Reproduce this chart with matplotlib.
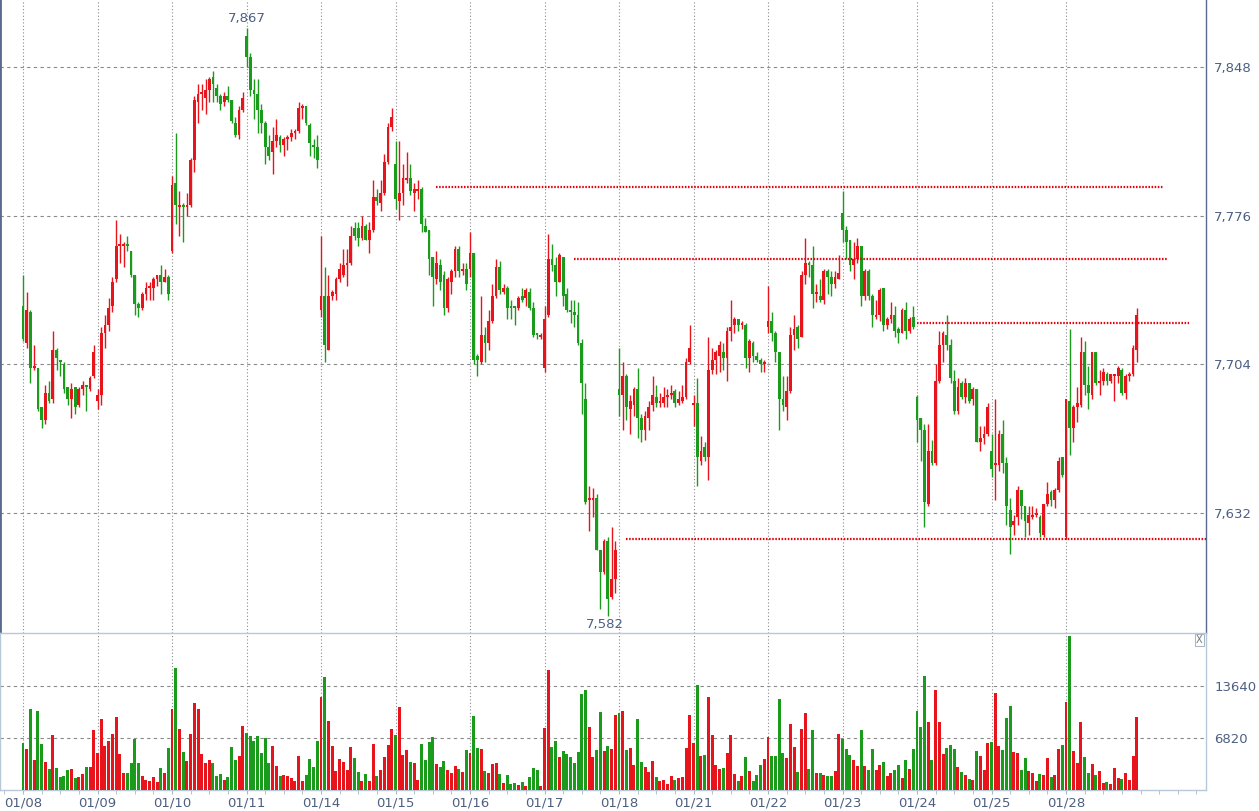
import numpy as np
import matplotlib
matplotlib.use('Agg')
import matplotlib.pyplot as plt
from matplotlib.ticker import FixedLocator, MultipleLocator, FuncFormatter

# trading days shown on the x axis, 20 bars per day
day_labels = ['01/08', '01/09', '01/10', '01/11', '01/14', '01/15', '01/16', '01/17',
              '01/18', '01/21', '01/22', '01/23', '01/24', '01/25', '01/28']
bars_per_day = 20

opens = [
    7732, 7714, 7729, 7702, 7702, 7683, 7677, 7690, 7687, 7711, 7706, 7704, 7693, 7687, 7693, 7684, 7692, 7694, 7692, 7698,
    7686, 7689, 7719, 7723, 7732, 7745, 7761, 7761, 7762, 7759, 7747, 7733, 7731, 7738, 7741, 7741, 7745, 7747, 7744, 7746,
    7759, 7792, 7780, 7781, 7780, 7781, 7803, 7831, 7835, 7833, 7837, 7843, 7838, 7834, 7831, 7834, 7832, 7821, 7815, 7827,
    7863, 7853, 7837, 7835, 7827, 7821, 7809, 7807, 7812, 7814, 7810, 7813, 7814, 7816, 7817, 7828, 7829, 7820, 7810, 7809,
    7730, 7737, 7711, 7737, 7738, 7745, 7747, 7752, 7753, 7770, 7770, 7765, 7771, 7764, 7769, 7785, 7782, 7787, 7802, 7819,
    7801, 7783, 7787, 7793, 7794, 7787, 7788, 7789, 7771, 7769, 7756, 7745, 7752, 7747, 7731, 7744, 7749, 7760, 7749, 7750,
    7750, 7758, 7708, 7705, 7718, 7714, 7725, 7737, 7751, 7739, 7741, 7732, 7732, 7731, 7737, 7736, 7739, 7731, 7719, 7717,
    7702, 7728, 7755, 7752, 7744, 7756, 7738, 7730, 7729, 7728, 7714, 7687, 7638, 7638, 7639, 7614, 7603, 7618, 7591, 7600,
    7692, 7689, 7698, 7682, 7684, 7692, 7678, 7672, 7678, 7684, 7688, 7685, 7685, 7688, 7689, 7691, 7685, 7686, 7688, 7705,
    7684, 7685, 7657, 7664, 7659, 7701, 7706, 7708, 7710, 7707, 7720, 7723, 7726, 7723, 7723, 7707, 7714, 7708, 7706, 7704,
    7722, 7725, 7719, 7710, 7687, 7683, 7691, 7718, 7722, 7717, 7747, 7753, 7752, 7738, 7737, 7735, 7749, 7746, 7743, 7745,
    7777, 7769, 7764, 7752, 7755, 7761, 7737, 7749, 7737, 7727, 7728, 7741, 7723, 7726, 7728, 7721, 7719, 7730, 7720, 7727,
    7688, 7678, 7672, 7636, 7662, 7656, 7696, 7713, 7718, 7713, 7696, 7681, 7695, 7688, 7695, 7687, 7692, 7666, 7668, 7670,
    7662, 7655, 7655, 7670, 7656, 7633, 7626, 7630, 7643, 7635, 7627, 7630, 7631, 7630, 7621, 7636, 7642, 7638, 7643, 7659,
    7620, 7686, 7673, 7683, 7684, 7710, 7694, 7689, 7710, 7695, 7696, 7699, 7696, 7698, 7698, 7701, 7690, 7698, 7699, 7711,
]
highs = [
    7747, 7739, 7730, 7713, 7702, 7683, 7694, 7696, 7720, 7712, 7706, 7705, 7693, 7695, 7693, 7693, 7696, 7694, 7698, 7713,
    7692, 7722, 7728, 7736, 7746, 7774, 7767, 7763, 7766, 7759, 7747, 7734, 7739, 7744, 7744, 7746, 7747, 7752, 7750, 7747,
    7795, 7816, 7788, 7782, 7787, 7804, 7834, 7840, 7840, 7842, 7843, 7846, 7840, 7835, 7836, 7839, 7832, 7824, 7829, 7836,
    7867, 7855, 7842, 7842, 7830, 7822, 7815, 7819, 7823, 7815, 7814, 7815, 7818, 7818, 7831, 7830, 7829, 7821, 7813, 7815,
    7766, 7751, 7747, 7740, 7746, 7753, 7760, 7760, 7771, 7773, 7773, 7776, 7772, 7773, 7793, 7789, 7793, 7806, 7821, 7828,
    7812, 7812, 7801, 7807, 7801, 7792, 7793, 7790, 7775, 7769, 7756, 7759, 7755, 7749, 7746, 7750, 7761, 7761, 7753, 7753,
    7768, 7758, 7709, 7737, 7722, 7730, 7743, 7755, 7754, 7743, 7742, 7735, 7732, 7737, 7741, 7741, 7741, 7734, 7719, 7719,
    7732, 7767, 7762, 7756, 7758, 7756, 7741, 7735, 7735, 7734, 7716, 7695, 7645, 7644, 7641, 7614, 7619, 7620, 7625, 7618,
    7712, 7705, 7699, 7689, 7693, 7702, 7680, 7681, 7686, 7698, 7694, 7690, 7693, 7692, 7694, 7692, 7691, 7694, 7707, 7723,
    7689, 7697, 7669, 7666, 7717, 7712, 7711, 7715, 7714, 7722, 7735, 7727, 7726, 7725, 7724, 7716, 7715, 7710, 7707, 7706,
    7742, 7729, 7720, 7710, 7698, 7698, 7722, 7728, 7723, 7749, 7765, 7754, 7761, 7743, 7745, 7750, 7750, 7749, 7749, 7757,
    7788, 7771, 7764, 7763, 7765, 7761, 7750, 7750, 7738, 7735, 7741, 7741, 7727, 7734, 7732, 7722, 7731, 7734, 7727, 7732,
    7689, 7678, 7675, 7675, 7667, 7704, 7720, 7720, 7728, 7716, 7701, 7697, 7696, 7697, 7695, 7693, 7692, 7674, 7674, 7685,
    7670, 7687, 7672, 7677, 7659, 7639, 7631, 7645, 7643, 7635, 7635, 7635, 7634, 7631, 7636, 7647, 7643, 7644, 7659, 7659,
    7687, 7721, 7684, 7693, 7717, 7715, 7703, 7710, 7710, 7701, 7702, 7700, 7699, 7699, 7703, 7702, 7699, 7700, 7713, 7731,
]
lows = [
    7715, 7712, 7695, 7701, 7681, 7673, 7675, 7685, 7685, 7701, 7698, 7690, 7684, 7678, 7680, 7683, 7689, 7681, 7691, 7697,
    7682, 7684, 7712, 7720, 7729, 7744, 7753, 7751, 7759, 7746, 7728, 7727, 7730, 7735, 7735, 7735, 7742, 7738, 7744, 7735,
    7758, 7772, 7766, 7763, 7776, 7780, 7797, 7821, 7827, 7825, 7831, 7831, 7831, 7827, 7829, 7831, 7821, 7814, 7813, 7826,
    7848, 7834, 7823, 7816, 7816, 7801, 7803, 7796, 7809, 7807, 7805, 7808, 7812, 7813, 7816, 7823, 7820, 7805, 7804, 7799,
    7727, 7705, 7711, 7735, 7735, 7744, 7746, 7742, 7752, 7764, 7761, 7764, 7764, 7758, 7768, 7781, 7778, 7786, 7801, 7817,
    7779, 7774, 7781, 7792, 7786, 7778, 7784, 7768, 7768, 7747, 7732, 7743, 7740, 7728, 7729, 7738, 7746, 7746, 7747, 7740,
    7746, 7704, 7698, 7704, 7705, 7711, 7724, 7736, 7738, 7738, 7726, 7726, 7723, 7730, 7734, 7732, 7730, 7717, 7716, 7716,
    7700, 7727, 7749, 7737, 7744, 7732, 7729, 7724, 7722, 7713, 7680, 7636, 7623, 7630, 7614, 7585, 7602, 7582, 7590, 7593,
    7679, 7672, 7677, 7670, 7679, 7668, 7666, 7667, 7672, 7681, 7683, 7683, 7683, 7683, 7687, 7683, 7684, 7685, 7687, 7704,
    7674, 7645, 7655, 7657, 7648, 7699, 7699, 7700, 7701, 7696, 7715, 7719, 7720, 7721, 7702, 7700, 7705, 7705, 7700, 7700,
    7719, 7715, 7705, 7672, 7681, 7677, 7690, 7711, 7712, 7717, 7743, 7746, 7731, 7734, 7734, 7733, 7738, 7737, 7741, 7745,
    7763, 7755, 7749, 7745, 7753, 7732, 7735, 7735, 7722, 7726, 7725, 7720, 7721, 7724, 7717, 7714, 7719, 7716, 7719, 7721,
    7666, 7657, 7625, 7635, 7655, 7655, 7695, 7705, 7711, 7695, 7680, 7680, 7687, 7685, 7685, 7684, 7666, 7662, 7665, 7669,
    7649, 7638, 7652, 7651, 7626, 7612, 7621, 7626, 7629, 7620, 7621, 7629, 7630, 7620, 7620, 7635, 7635, 7634, 7642, 7649,
    7619, 7660, 7666, 7676, 7683, 7689, 7682, 7687, 7694, 7689, 7694, 7694, 7695, 7686, 7695, 7689, 7687, 7696, 7698, 7705,
]
closes = [
    7716, 7730, 7702, 7703, 7682, 7677, 7690, 7686, 7711, 7707, 7705, 7692, 7687, 7692, 7683, 7692, 7694, 7693, 7697, 7710,
    7689, 7719, 7723, 7731, 7744, 7761, 7762, 7762, 7761, 7747, 7733, 7731, 7738, 7741, 7742, 7745, 7747, 7744, 7746, 7738,
    7791, 7781, 7781, 7780, 7781, 7803, 7832, 7835, 7836, 7837, 7842, 7840, 7834, 7830, 7834, 7832, 7822, 7815, 7827, 7833,
    7853, 7837, 7835, 7827, 7821, 7809, 7805, 7812, 7815, 7810, 7813, 7814, 7816, 7817, 7828, 7829, 7821, 7811, 7809, 7803,
    7737, 7713, 7737, 7739, 7745, 7750, 7752, 7753, 7766, 7766, 7765, 7771, 7764, 7769, 7785, 7783, 7787, 7802, 7819, 7824,
    7784, 7787, 7794, 7794, 7788, 7789, 7789, 7772, 7768, 7755, 7746, 7753, 7744, 7731, 7745, 7749, 7760, 7749, 7750, 7743,
    7758, 7706, 7706, 7718, 7714, 7725, 7737, 7751, 7740, 7741, 7731, 7731, 7731, 7736, 7735, 7740, 7731, 7718, 7718, 7718,
    7726, 7755, 7752, 7744, 7757, 7737, 7730, 7729, 7728, 7714, 7695, 7637, 7639, 7639, 7614, 7603, 7618, 7590, 7600, 7614,
    7689, 7698, 7683, 7686, 7692, 7678, 7672, 7679, 7683, 7689, 7685, 7686, 7688, 7689, 7690, 7685, 7687, 7688, 7705, 7712,
    7685, 7659, 7662, 7659, 7701, 7706, 7710, 7713, 7707, 7720, 7722, 7726, 7723, 7724, 7707, 7715, 7708, 7706, 7704, 7705,
    7725, 7719, 7710, 7687, 7684, 7691, 7718, 7721, 7716, 7747, 7753, 7752, 7738, 7739, 7735, 7749, 7746, 7743, 7746, 7748,
    7769, 7763, 7752, 7755, 7761, 7737, 7749, 7737, 7728, 7728, 7740, 7723, 7726, 7728, 7720, 7719, 7730, 7720, 7726, 7722,
    7677, 7672, 7637, 7662, 7656, 7696, 7713, 7719, 7713, 7697, 7681, 7693, 7688, 7695, 7686, 7692, 7666, 7668, 7670, 7683,
    7653, 7656, 7670, 7656, 7635, 7625, 7628, 7643, 7635, 7628, 7631, 7631, 7632, 7622, 7636, 7641, 7638, 7643, 7657, 7650,
    7687, 7673, 7683, 7685, 7710, 7694, 7690, 7710, 7695, 7696, 7700, 7696, 7699, 7699, 7702, 7690, 7698, 7699, 7712, 7728,
]
volumes = [
    6144, 5440, 10560, 3904, 10368, 6080, 3712, 2752, 7232, 2880, 1664, 1792, 2624, 2752, 1600, 1664, 2112, 3072, 3072, 7808,
    4864, 9344, 5824, 6400, 7360, 9600, 4672, 2240, 2240, 3520, 6720, 3520, 1792, 1280, 1152, 1664, 1024, 2880, 2240, 5568,
    10624, 15936, 8064, 4928, 3776, 7360, 11392, 10624, 4672, 3520, 3904, 3584, 1792, 2112, 1280, 1728, 5632, 3904, 4480, 8448,
    7424, 7040, 6400, 7104, 4864, 6784, 3520, 5824, 3200, 1792, 1920, 1792, 1600, 1152, 4416, 1152, 1920, 4032, 3072, 6464,
    12160, 14784, 9088, 5824, 2432, 4032, 3712, 2624, 5696, 4160, 2368, 1152, 2112, 1152, 6080, 1792, 2624, 4352, 5952, 8064,
    7232, 10880, 4544, 5184, 3712, 3520, 1344, 6080, 3904, 6272, 6912, 3392, 3008, 3840, 2560, 2176, 3200, 2816, 2304, 5184,
    4800, 9664, 5568, 5312, 2432, 2240, 3392, 3520, 2112, 960, 1984, 832, 960, 704, 1024, 512, 1664, 2880, 2624, 512,
    8192, 15744, 5632, 6464, 4288, 5056, 4672, 4352, 3520, 4928, 12544, 13056, 8320, 4288, 5184, 10240, 5056, 5760, 5440, 9856,
    10112, 10368, 5184, 5568, 3264, 9344, 3648, 3072, 2304, 3776, 1728, 1152, 1344, 768, 1792, 1280, 1536, 1664, 5568, 9856,
    6208, 13760, 4416, 4544, 12160, 7232, 3264, 2752, 2944, 4864, 7232, 2048, 1216, 1792, 4288, 2496, 1152, 1920, 3264, 4096,
    6912, 4480, 4416, 11904, 4800, 4160, 8640, 5696, 2368, 8064, 10112, 2752, 7808, 2240, 2176, 1920, 1792, 1792, 2496, 7360,
    6720, 5376, 4544, 3904, 3200, 7808, 3200, 2688, 5376, 2688, 3264, 3712, 1792, 2240, 2624, 3264, 1600, 3904, 2816, 5376,
    10368, 8320, 14912, 8896, 3904, 13056, 8896, 4736, 5568, 5888, 5440, 3008, 2368, 1920, 1408, 1280, 5056, 4416, 2624, 6208,
    6272, 12672, 5760, 5184, 9472, 11008, 4928, 4800, 2624, 4160, 2496, 2176, 1152, 2048, 1920, 4160, 1664, 1920, 5312, 5952,
    11520, 20224, 5056, 3584, 8896, 4288, 2240, 3392, 1920, 2496, 960, 1024, 768, 2880, 1600, 1408, 2176, 1280, 4416, 9600,
]

# horizontal support / resistance lines drawn on the chart: price, first bar, last bar
level_prices = [7790, 7755, 7724, 7619]
level_start = [111, 148, 240, 162]
level_end = [306, 307, 313, 318]

price_ticks = [7632, 7704, 7776, 7848]
volume_ticks = [6820, 13640]

# colours
up_color = '#e8141b'
down_color = '#1b9b1b'
label_color = '#4c5f82'
grid_color = '#8a8a8a'
font_size = 9.5

o = np.array(opens, dtype=float)
h = np.array(highs, dtype=float)
l = np.array(lows, dtype=float)
c = np.array(closes, dtype=float)
v = np.array(volumes, dtype=float)
x = np.arange(len(c))
colors = np.where(c >= o, up_color, down_color)

# doji candles still get a one pixel body
body_bottom = np.minimum(o, c)
body_height = np.abs(c - o)
thin = body_height < 0.6
body_bottom[thin] = (o[thin] + c[thin]) / 2 - 0.3
body_height[thin] = 0.6

W, H = 1259, 811
fig = plt.figure(figsize=(W / 100, H / 100), dpi=100)
fig.patch.set_facecolor('white')

right_px = 1206
ax = fig.add_axes([0, (H - 633) / H, right_px / W, 633 / H])
axv = fig.add_axes([0, (H - 790) / H, right_px / W, (790 - 633) / H], sharex=ax)

xlim = (-23 / 3.725, (right_px - 23) / 3.725)
day_starts = np.arange(len(day_labels)) * bars_per_day

# ---- price panel
ax.vlines(x, l, h, colors=colors, linewidth=1.0, zorder=3)
ax.bar(x, body_height, bottom=body_bottom, width=0.75, color=colors, linewidth=0, zorder=4)

for p, s, e in zip(level_prices, level_start, level_end):
    ax.hlines(p, s, e, colors='#e3000f', linewidth=1.6, linestyles=(0, (0.7, 0.7)), zorder=5)

ax.set_xlim(*xlim)
ax.set_ylim(7573.6, 7880.5)
ax.yaxis.tick_right()
ax.yaxis.set_major_locator(FixedLocator(price_ticks))
ax.yaxis.set_major_formatter(FuncFormatter(lambda val, pos: f'{val:,.0f}'))
ax.tick_params(axis='y', length=0, pad=6, labelsize=font_size, labelcolor=label_color)
ax.tick_params(axis='x', which='both', length=0, labelbottom=False)
ax.xaxis.set_major_locator(FixedLocator(day_starts))
ax.grid(axis='y', color=grid_color, linestyle=(0, (3, 3)), linewidth=0.8)
ax.grid(axis='x', color=grid_color, linestyle=(0, (1, 2)), linewidth=0.8)
ax.set_axisbelow(True)
for side in ['top', 'bottom']:
    ax.spines[side].set_visible(False)
ax.spines['left'].set_color('#5a6a8c')
ax.spines['left'].set_linewidth(2)
ax.spines['right'].set_color('#5a6a8c')
ax.spines['right'].set_linewidth(1)

# labels on the highest and lowest bar
i_hi = int(np.argmax(h))
i_lo = int(np.argmin(l))
ax.annotate(f'{h[i_hi]:,.0f}', (i_hi, h[i_hi]), xytext=(0, 2), textcoords='offset points',
            ha='center', va='bottom', fontsize=font_size, color=label_color)
ax.annotate(f'{l[i_lo]:,.0f}', (i_lo, l[i_lo]), xytext=(-2, -2), textcoords='offset points',
            ha='center', va='top', fontsize=font_size, color=label_color)

# ---- volume panel
axv.bar(x, v, width=0.8, color=colors, linewidth=0, zorder=3)
axv.set_ylim(0, 20590)
axv.yaxis.tick_right()
axv.yaxis.set_major_locator(FixedLocator(volume_ticks))
axv.tick_params(axis='y', length=0, pad=6, labelsize=font_size, labelcolor=label_color)
axv.xaxis.set_major_locator(FixedLocator(day_starts))
axv.xaxis.set_minor_locator(MultipleLocator(5))
axv.set_xticklabels(day_labels)
axv.tick_params(axis='x', which='both', length=3, color='#a8b8c8', pad=2,
                labelsize=font_size, labelcolor=label_color)
axv.grid(axis='y', color=grid_color, linestyle=(0, (3, 3)), linewidth=0.8)
axv.grid(axis='x', which='major', color=grid_color, linestyle=(0, (1, 2)), linewidth=0.8)
axv.set_axisbelow(True)
for side in ['top', 'right', 'bottom', 'left']:
    axv.spines[side].set_color('#b8c8d8')
    axv.spines[side].set_linewidth(1)

# small close box in the corner of the volume panel
fig.text(1199.5 / W, 1 - 640 / H, 'X', ha='center', va='center', fontsize=7, color='#777777',
         bbox=dict(boxstyle='square,pad=0.12', fc='white', ec='#aab8c8', lw=0.8))

fig.savefig('out.png', dpi=100)
